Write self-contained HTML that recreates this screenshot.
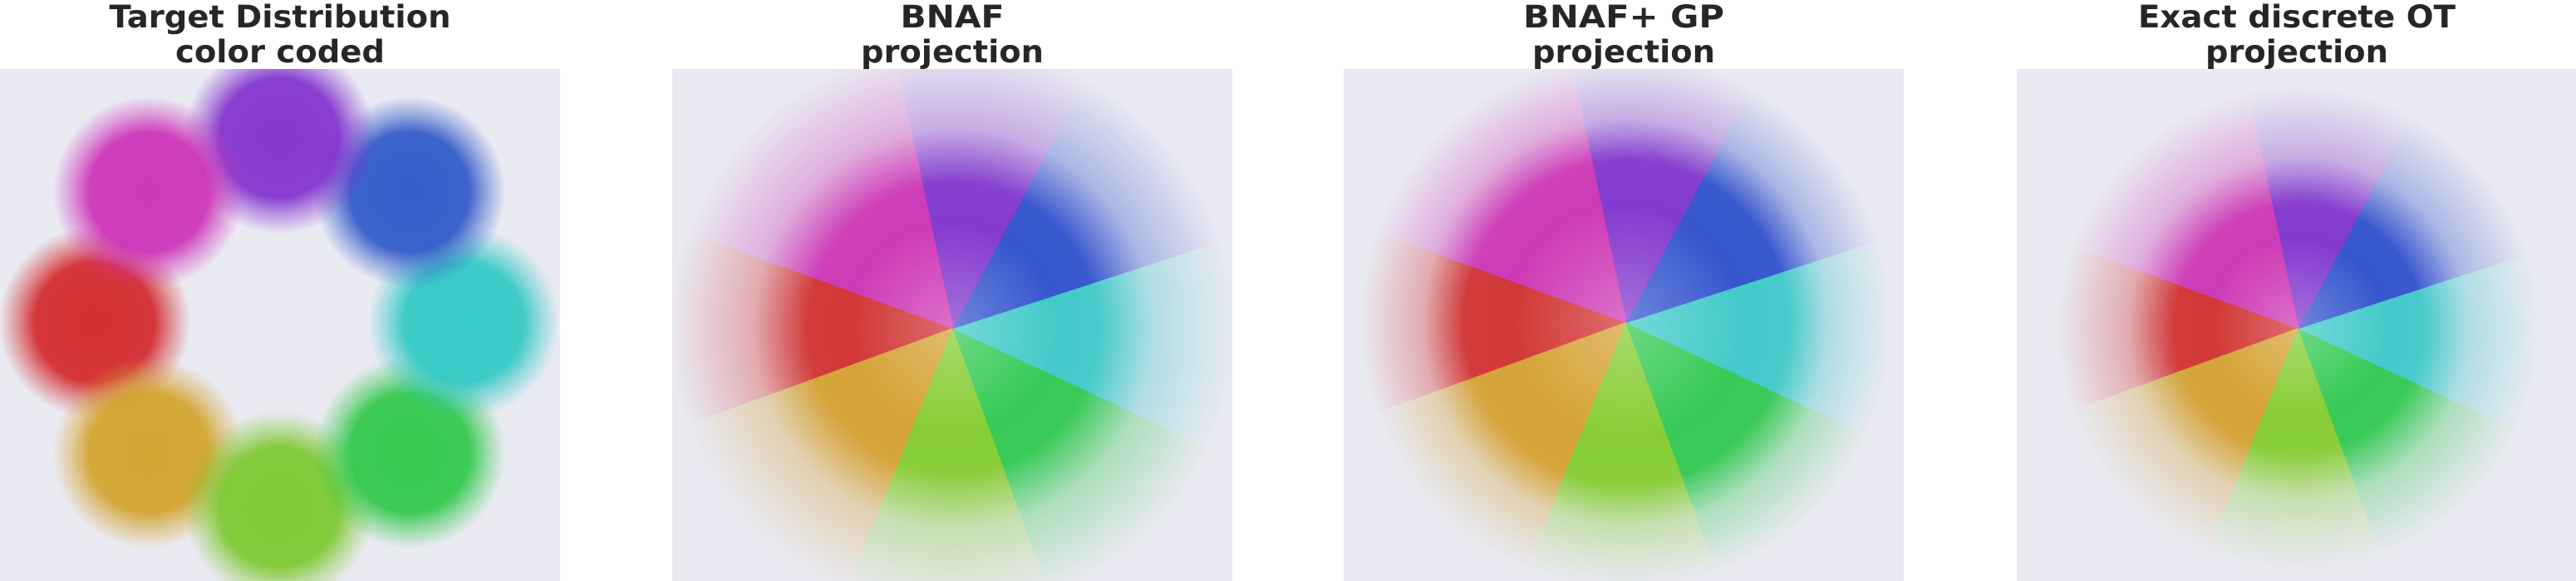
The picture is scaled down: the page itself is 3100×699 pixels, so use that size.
<!DOCTYPE html>
<html><head><meta charset="utf-8">
<style>
html,body{margin:0;padding:0;background:#fff;width:3100px;height:699px;overflow:hidden;}
svg{display:block;overflow:hidden;}
text{font-family:"DejaVu Sans","Liberation Sans",sans-serif;font-weight:bold;fill:#262626;}
</style></head>
<body>
<svg id="fig" width="3100" height="699" viewBox="0 0 3100 699" xmlns="http://www.w3.org/2000/svg">
<defs id="defs"></defs>
</svg>
<script>
// ---- data ----
const clusterAngles = [180, 225, 270, 315, 0, 45, 90, 135];
const clusterColors = ["#d2262a", "#d2a22a", "#7cc82e", "#2ec848", "#2ec8c4", "#2e58c8", "#8030cc", "#cc30b8"];
const clusterRadius = [1, 1, 1, 1, 1, 1, 1, 1];
const wedgeStarts = [160, 200, 248, 290, 335, 18, 62, 102];
const wedgeEnds   = [200, 248, 290, 335, 378, 62, 102, 160];
const wedgeColors = ["#d03030", "#d4a030", "#84cc30", "#30c850", "#3cc8c8", "#3050cc", "#8034cc", "#cc34b4"];
const titles = [["Target Distribution","color coded"],["BNAF","projection"],["BNAF+ GP","projection"],["Exact discrete OT","projection"]];
const titleWidths = [[411,252],[125,220],[242,220],[382,220]];
const panelX = [0, 809, 1617, 2427];
const projCenters = [[1147,395],[1957,388],[2766,395]];
const projCore = [175, 195, 150];
const projOuter = [340, 320, 290];
// ---- end data ----
const NS="http://www.w3.org/2000/svg";
const svg=document.getElementById('fig');
const defs=document.getElementById('defs');
function mk(t,a,p){const e=document.createElementNS(NS,t);for(const k in a)e.setAttribute(k,a[k]);(p||svg).appendChild(e);return e;}
const PW=674, PT=83, PH=616;
for(let i=0;i<4;i++){
  const cp=mk('clipPath',{id:'clip'+i},defs);
  mk('rect',{x:panelX[i],y:PT,width:PW,height:PH},cp);
  const r=mk('rect',{x:panelX[i],y:PT,width:PW,height:PH,fill:'#eaeaf2'});
  
  
  const cx=panelX[i]+PW/2;
  for(let l=0;l<2;l++){
    const t=mk('text',{x:cx,y:l?75:33,'text-anchor':'middle','font-size':37,textLength:titleWidths[i][l],lengthAdjust:'spacingAndGlyphs'});
    t.textContent=titles[i][l];
    
    
  }
}
const c1x=336, c1y=388, unit=222;
const sx=v=>c1x+v*unit, sy=v=>c1y-v*unit;
const g1=mk('g',{'clip-path':'url(#clip0)'});


clusterAngles.forEach((a,k)=>{
  const rad=a*Math.PI/180;
  const gid='cg'+k;
  const gr=mk('radialGradient',{id:gid},defs);
  mk('stop',{offset:'0','stop-color':clusterColors[k],'stop-opacity':'0.95'},gr);
  mk('stop',{offset:'0.62','stop-color':clusterColors[k],'stop-opacity':'0.92'},gr);
  mk('stop',{offset:'0.8','stop-color':clusterColors[k],'stop-opacity':'0.45'},gr);
  mk('stop',{offset:'1','stop-color':clusterColors[k],'stop-opacity':'0'},gr);
  const c=mk('circle',{cx:sx(clusterRadius[k]*Math.cos(rad)),cy:sy(clusterRadius[k]*Math.sin(rad)),r:0.52*unit,fill:'url(#'+gid+')'},g1);
  
  
});
projCenters.forEach((pc,p)=>{
  const [cx,cy]=pc, R2=projOuter[p], R1=projCore[p];
  const mid='m'+p, mg='mg'+p;
  const gr=mk('radialGradient',{id:mg,cx:cx,cy:cy,r:R2,gradientUnits:'userSpaceOnUse'},defs);
  mk('stop',{offset:'0','stop-color':'#fff'},gr);
  mk('stop',{offset:(R1/R2).toFixed(3),'stop-color':'#f0f0f0'},gr);
  mk('stop',{offset:((R1/R2)*0.6+0.4).toFixed(3),'stop-color':'#555'},gr);
  mk('stop',{offset:'1','stop-color':'#000'},gr);
  const m=mk('mask',{id:mid},defs);
  mk('rect',{x:cx-R2,y:cy-R2,width:2*R2,height:2*R2,fill:'url(#'+mg+')'},m);
  const g=mk('g',{'clip-path':'url(#clip'+(p+1)+')',mask:'url(#'+mid+')'});
  
  
  wedgeStarts.forEach((s,k)=>{
    const e=wedgeEnds[k];
    const a0=s*Math.PI/180,a1=e*Math.PI/180;
    const x0=cx+R2*Math.cos(a0),y0=cy-R2*Math.sin(a0),x1=cx+R2*Math.cos(a1),y1=cy-R2*Math.sin(a1);
    const large=(e-s)>180?1:0;
    const w=mk('path',{d:`M${cx},${cy}L${x0},${y0}A${R2},${R2} 0 ${large} 0 ${x1},${y1}Z`,fill:wedgeColors[k],stroke:wedgeColors[k],'stroke-width':1},g);
    
    
  });
  const hg='hg'+p;
  const h=mk('radialGradient',{id:hg},defs);
  mk('stop',{offset:'0','stop-color':'#fff','stop-opacity':'0.3'},h);
  mk('stop',{offset:'1','stop-color':'#fff','stop-opacity':'0'},h);
  const hl=mk('circle',{cx:cx,cy:cy,r:R1*0.7,fill:'url(#'+hg+')'},g);
  
  
});
</script>
</body></html>
